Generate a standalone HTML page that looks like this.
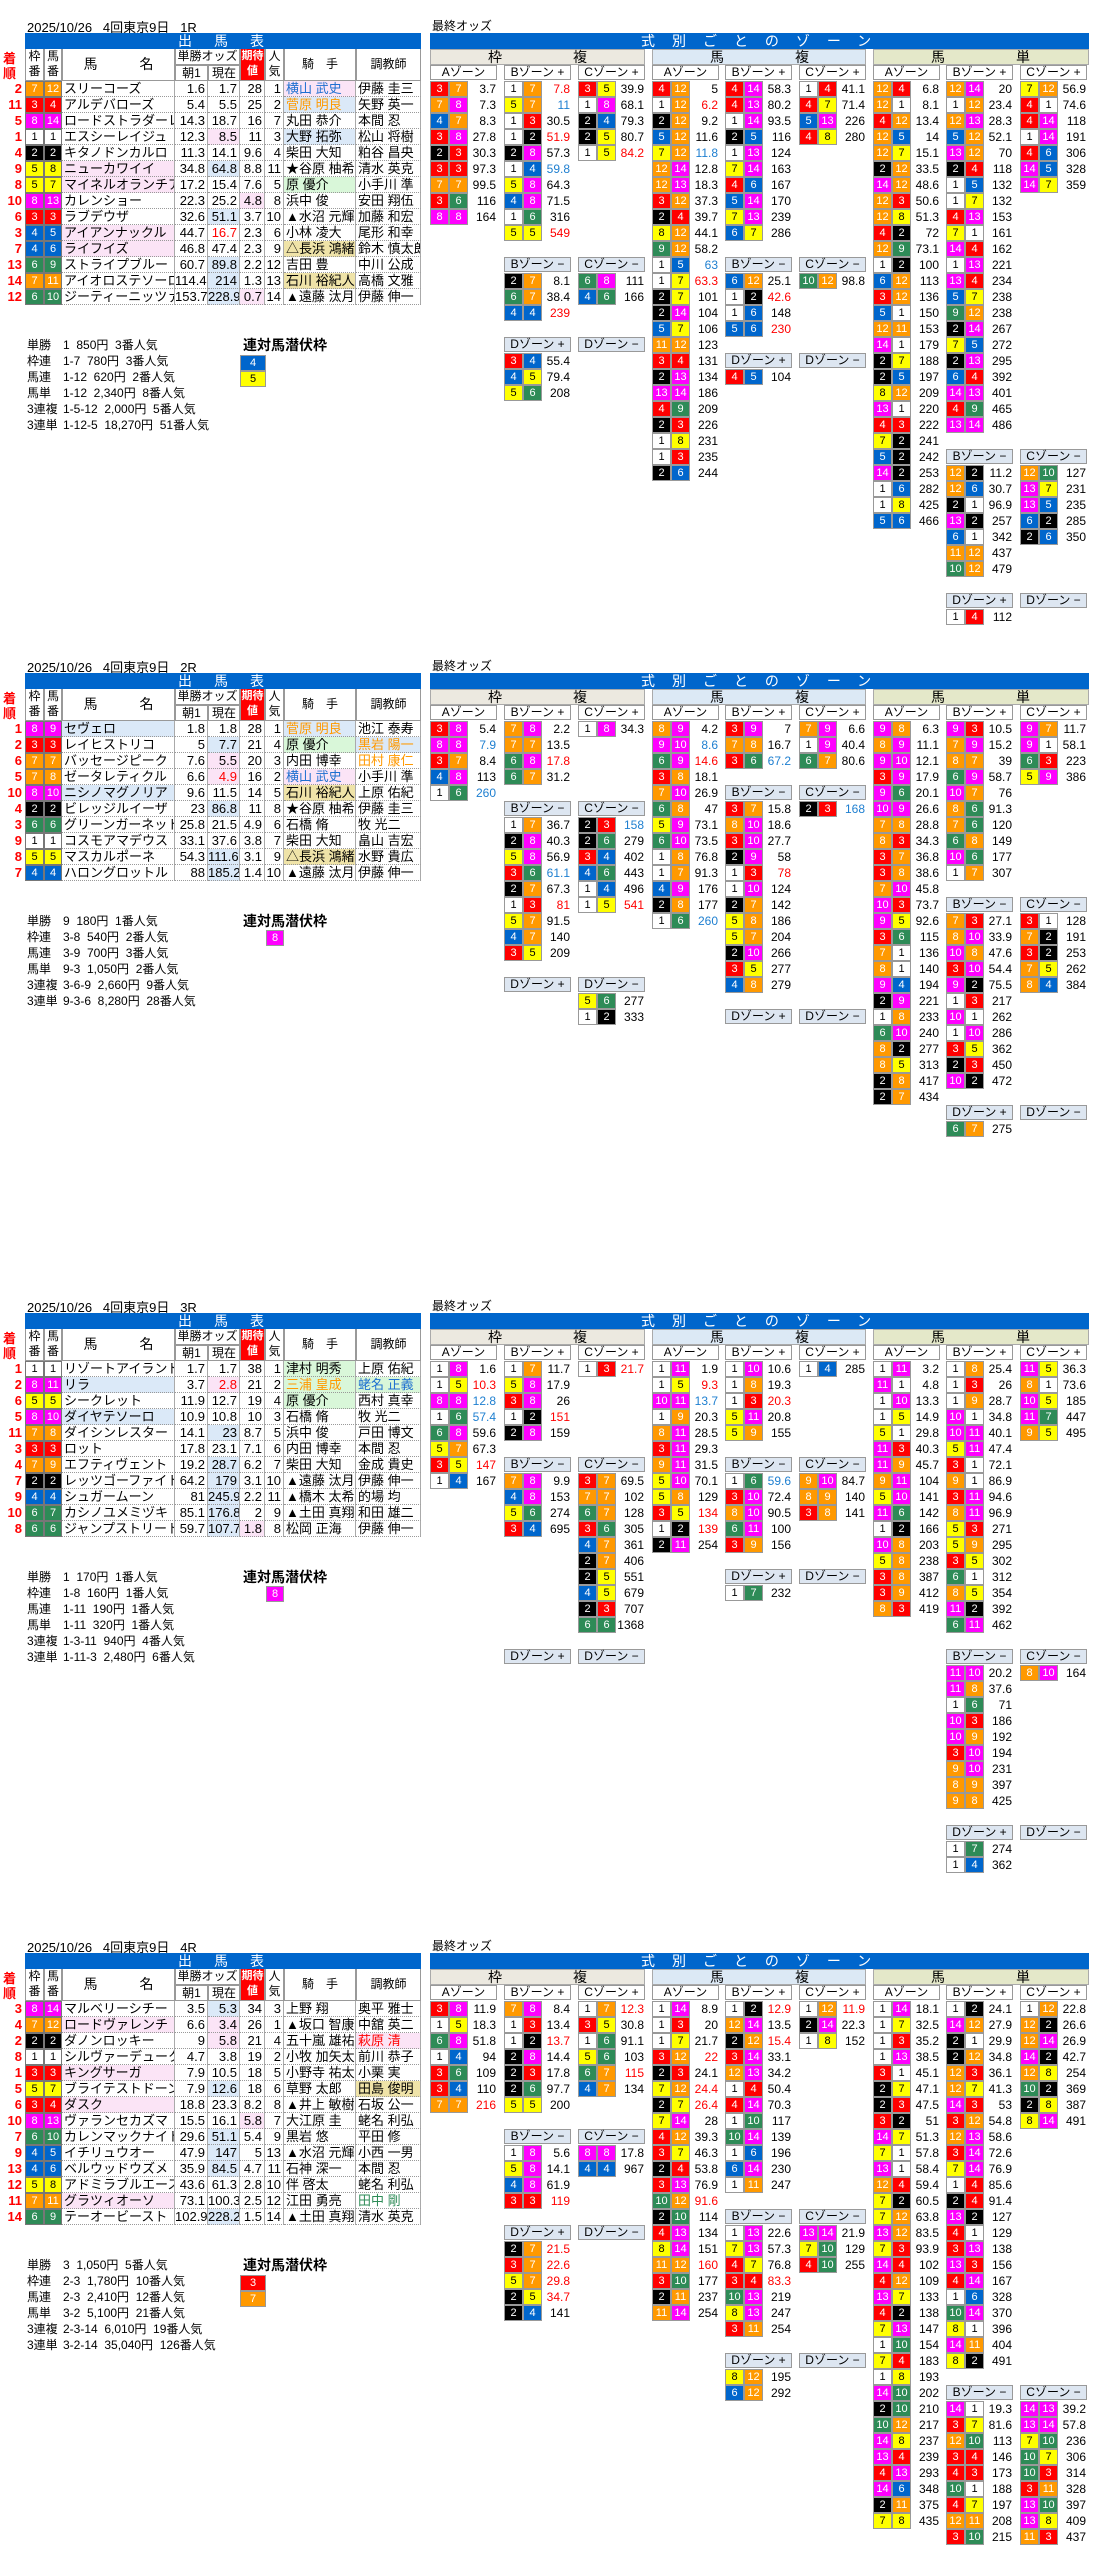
<!DOCTYPE html>
<html><head><meta charset="utf-8"><style>
body{margin:0;width:1093px;height:2560px;position:relative;background:#fff;font-family:"Liberation Sans","Noto Sans CJK JP",sans-serif;color:#000;overflow:hidden}
.blk{position:absolute;left:0;width:1093px;height:640px}
.dt{position:absolute;left:27px;top:17px;font-size:13px;white-space:pre}
.so{position:absolute;left:432px;top:17px;font-size:12px}
.bar{position:absolute;top:33px;height:16px;background:#0066cc;color:#fff;font-size:14px;line-height:16px;white-space:pre}
.sec{position:absolute;top:49px;height:16px;box-sizing:border-box;border:1px solid #aaa;font-size:14px;line-height:14px}
.sec span{position:absolute;top:0}
.zh{position:absolute;width:67px;height:15px;box-sizing:border-box;border:1px solid #999;font-size:12px;line-height:13px;text-align:center;background:#fff;white-space:nowrap}
.zh.m{background:#dde6f1}
.z{position:absolute;width:68px}
.z p{margin:0;height:16px;display:flex;font-size:12px;line-height:16px}
.z i,.tr i,.lb i{font-style:normal;width:19px;height:16px;box-sizing:border-box;border:1px solid #999;text-align:center;font-size:11px;line-height:14px}
.z b{font-weight:normal;flex:1;text-align:right;padding-right:2px}
.r{color:#f00}.u{color:#1e7fd0}
.f1,.ra .h1,.rb .h1,.rc .h1{background:#fff;color:#000}
.f2,.ra .h2,.rb .h2,.rc .h2{background:#000;color:#fff}
.f3,.ra .h3,.ra .h4,.rb .h3,.rc .h3{background:#f00;color:#fff}
.f4,.ra .h5,.ra .h6,.rb .h4,.rc .h4{background:#0066cc;color:#fff}
.f5,.ra .h7,.ra .h8,.rb .h5,.rc .h5{background:#ff0;color:#000}
.f6,.ra .h9,.ra .h10,.rb .h6,.rc .h6,.rc .h7{background:#2e8b57;color:#fff}
.f7,.ra .h11,.ra .h12,.rb .h7,.rb .h8,.rc .h8,.rc .h9{background:#ff9900;color:#fff}
.f8,.ra .h13,.ra .h14,.rb .h9,.rb .h10,.rc .h10,.rc .h11{background:#f0f;color:#fff}
.th{position:absolute;box-sizing:border-box;border:1px solid #999;border-top:none;text-align:center;font-size:12px;background:#fff}
.tr{position:absolute;left:0;height:16px;display:flex;font-size:13px;line-height:16px;white-space:nowrap}
.tr>*{box-sizing:border-box;border-bottom:1px dotted #999;border-right:1px solid #aaa;overflow:hidden}
.tr s{text-decoration:none;width:25px;text-align:right;color:#f00;padding-right:3px;border:none;font-weight:bold}
.tr i{border:1px solid #777;width:19px}
.tr i+i{width:18px}
.tr u{text-decoration:none;width:113px;padding-left:2px}
.tr em{font-style:normal;text-align:right;padding-right:2px}
.tr em.a{width:33px}.tr em.b{width:32px}.tr em.c{width:25px}.tr em.d{width:19px}
.tr q{width:72px;padding-left:2px}.tr q+q{width:65px}
.tr q:before,.tr q:after{content:none}
.res{position:absolute;left:27px;font-size:12px;line-height:16px;white-space:pre}
.res span{display:inline-block;width:36px}
.lbt{position:absolute;left:243px;font-size:14px;font-weight:bold;line-height:16px}
.lb{position:absolute;display:flex;flex-direction:column}
.lb i{width:26px}
</style></head><body>

<!-- ================= BLOCK 1 ================= -->
<div class="blk ra" style="top:0">
<div class="dt">2025/10/26   4回東京9日   1R</div>
<div class="so">最終オッズ</div>
<div class="bar" style="left:25px;width:396px"><span style="position:absolute;left:153px;letter-spacing:22px">出馬表</span></div>
<div class="bar" style="left:430px;width:659px"><span style="position:absolute;left:211px;letter-spacing:17px">式別ごとのゾーン</span></div>
<div class="sec" style="left:430px;width:215px;background:#ece9e0"><span style="left:57px">枠</span><span style="left:142px">複</span></div>
<div class="sec" style="left:652px;width:214px;background:#dce9f5"><span style="left:57px">馬</span><span style="left:142px">複</span></div>
<div class="sec" style="left:873px;width:216px;background:#e4e8c9"><span style="left:57px">馬</span><span style="left:142px">単</span></div>
<div style="position:absolute;left:3px;top:51px;color:#f00;font-size:13px;line-height:15px;font-weight:bold">着<br>順</div>
<div class="th" style="left:25px;top:49px;width:19px;height:32px;line-height:15px">枠<br>番</div>
<div class="th" style="left:44px;top:49px;width:18px;height:32px;line-height:15px">馬<br>番</div>
<div class="th" style="left:62px;top:49px;width:113px;height:32px;line-height:30px;font-size:14px">馬　　　名</div>
<div class="th" style="left:175px;top:49px;width:65px;height:16px;line-height:15px">単勝オッズ</div>
<div class="th" style="left:175px;top:65px;width:33px;height:16px;line-height:15px;border-top:1px solid #999">朝1</div>
<div class="th" style="left:208px;top:65px;width:32px;height:16px;line-height:15px;border-top:1px solid #999">現在</div>
<div class="th" style="left:240px;top:49px;width:25px;height:32px;line-height:15px;background:#f00;color:#fff;font-size:11px;font-weight:bold">期待<br>値</div>
<div class="th" style="left:265px;top:49px;width:19px;height:32px;line-height:15px">人<br>気</div>
<div class="th" style="left:284px;top:49px;width:72px;height:32px;line-height:30px">騎　手</div>
<div class="th" style="left:356px;top:49px;width:65px;height:32px;line-height:30px">調教師</div>
<div class="tr" style="top:81px"><s>2</s><i class="f7">7</i><i class="h12">12</i><u>スリーコーズ</u><em class="a">1.6</em><em class="b">1.7</em><em class="c">28</em><em class="d">1</em><q style="color:#1e6fd0;background:#fbe4f6">横山 武史</q><q>伊藤 圭三</q></div>
<div class="tr" style="top:97px"><s>11</s><i class="f3">3</i><i class="h4">4</i><u>アルデバローズ</u><em class="a">5.4</em><em class="b">5.5</em><em class="c">25</em><em class="d">2</em><q style="color:#f90;background:#dbe9f8">菅原 明良</q><q>矢野 英一</q></div>
<div class="tr" style="top:113px"><s>5</s><i class="f8">8</i><i class="h14">14</i><u>ロードストラダーレ</u><em class="a">14.3</em><em class="b">18.7</em><em class="c">16</em><em class="d">7</em><q>丸田 恭介</q><q>本間 忍</q></div>
<div class="tr" style="top:129px"><s>1</s><i class="f1">1</i><i class="h1">1</i><u>エスシーレイジュ</u><em class="a">12.3</em><em class="b" style="background:#fbe4f6">8.5</em><em class="c">11</em><em class="d">3</em><q style="background:#dbe9f8">大野 拓弥</q><q>松山 将樹</q></div>
<div class="tr" style="top:145px"><s>4</s><i class="f2">2</i><i class="h2">2</i><u>キタノドンカルロ</u><em class="a">11.3</em><em class="b">14.1</em><em class="c">9.6</em><em class="d">4</em><q>柴田 大知</q><q>粕谷 昌央</q></div>
<div class="tr" style="top:161px"><s>9</s><i class="f5">5</i><i class="h8">8</i><u style="background:#fbe4f6">ニューカワイイ</u><em class="a">34.8</em><em class="b" style="background:#dbe9f8">64.8</em><em class="c">8.8</em><em class="d">11</em><q>★谷原 柚希</q><q>清水 英克</q></div>
<div class="tr" style="top:177px"><s>8</s><i class="f5">5</i><i class="h7">7</i><u style="background:#fbe4f6">マイネルオランチア</u><em class="a">17.2</em><em class="b">15.4</em><em class="c">7.6</em><em class="d">5</em><q style="background:#d9f7d9">原 優介</q><q>小手川 準</q></div>
<div class="tr" style="top:193px"><s>10</s><i class="f8">8</i><i class="h13">13</i><u>カレンショー</u><em class="a">22.3</em><em class="b">25.2</em><em class="c" style="background:#fbe4f6">4.8</em><em class="d">8</em><q>浜中 俊</q><q>安田 翔伍</q></div>
<div class="tr" style="top:209px"><s>6</s><i class="f3">3</i><i class="h3">3</i><u>ラブデウザ</u><em class="a">32.6</em><em class="b" style="background:#dbe9f8">51.1</em><em class="c">3.7</em><em class="d">10</em><q>▲水沼 元輝</q><q>加藤 和宏</q></div>
<div class="tr" style="top:225px"><s>3</s><i class="f4">4</i><i class="h5">5</i><u style="background:#fbe4f6">アイアンナックル</u><em class="a">44.7</em><em class="b r">16.7</em><em class="c">2.3</em><em class="d">6</em><q>小林 凌大</q><q>尾形 和幸</q></div>
<div class="tr" style="top:241px"><s>7</s><i class="f4">4</i><i class="h6">6</i><u style="background:#fbe4f6">ライフイズ</u><em class="a">46.8</em><em class="b">47.4</em><em class="c">2.3</em><em class="d">9</em><q style="background:#efe3a8">△長浜 鴻緒</q><q>鈴木 慎太郎</q></div>
<div class="tr" style="top:257px"><s>13</s><i class="f6">6</i><i class="h9">9</i><u>ストライプブルー</u><em class="a">60.7</em><em class="b" style="background:#dbe9f8">89.8</em><em class="c">2.2</em><em class="d">12</em><q>吉田 豊</q><q>中川 公成</q></div>
<div class="tr" style="top:273px"><s>14</s><i class="f7">7</i><i class="h11">11</i><u>アイオロステソーロ</u><em class="a">114.4</em><em class="b" style="background:#dbe9f8">214</em><em class="c">1.3</em><em class="d">13</em><q style="background:#efe3a8">石川 裕紀人</q><q>高橋 文雅</q></div>
<div class="tr" style="top:289px"><s>12</s><i class="f6">6</i><i class="h10">10</i><u>ジーティーニッツァ</u><em class="a">153.7</em><em class="b" style="background:#dbe9f8">228.9</em><em class="c" style="background:#fbe4f6">0.7</em><em class="d">14</em><q>▲遠藤 汰月</q><q>伊藤 伸一</q></div>
<div class="res" style="top:337px"><span>単勝</span>1  850円  3番人気
<span>枠連</span>1-7  780円  3番人気
<span>馬連</span>1-12  620円  2番人気
<span>馬単</span>1-12  2,340円  8番人気
<span>3連複</span>1-5-12  2,000円  5番人気
<span>3連単</span>1-12-5  18,270円  51番人気</div>
<div class="lbt" style="top:337px">連対馬潜伏枠</div>
<div class="lb" style="left:240px;top:355px"><i class="f4">4</i><i class="f5">5</i></div>

<div class="zh" style="left:430px;top:65px">Aゾーン</div><div class="zh" style="left:504px;top:65px">Bゾーン +</div><div class="zh" style="left:578px;top:65px">Cゾーン +</div>
<div class="zh" style="left:652px;top:65px">Aゾーン</div><div class="zh" style="left:725px;top:65px">Bゾーン +</div><div class="zh" style="left:799px;top:65px">Cゾーン +</div>
<div class="zh" style="left:873px;top:65px">Aゾーン</div><div class="zh" style="left:946px;top:65px">Bゾーン +</div><div class="zh" style="left:1020px;top:65px">Cゾーン +</div>
<div class="z" style="left:430px;top:81px"><p><i class="f3">3</i><i class="f7">7</i><b>3.7</b></p><p><i class="f7">7</i><i class="f8">8</i><b>7.3</b></p><p><i class="f4">4</i><i class="f7">7</i><b>8.3</b></p><p><i class="f3">3</i><i class="f8">8</i><b>27.8</b></p><p><i class="f2">2</i><i class="f3">3</i><b>30.3</b></p><p><i class="f3">3</i><i class="f3">3</i><b>97.3</b></p><p><i class="f7">7</i><i class="f7">7</i><b>99.5</b></p><p><i class="f3">3</i><i class="f6">6</i><b>116</b></p><p><i class="f8">8</i><i class="f8">8</i><b>164</b></p></div>
<div class="z" style="left:504px;top:81px"><p><i class="f1">1</i><i class="f7">7</i><b class="r">7.8</b></p><p><i class="f5">5</i><i class="f7">7</i><b class="u">11</b></p><p><i class="f1">1</i><i class="f3">3</i><b>30.5</b></p><p><i class="f1">1</i><i class="f2">2</i><b class="r">51.9</b></p><p><i class="f2">2</i><i class="f8">8</i><b>57.3</b></p><p><i class="f1">1</i><i class="f4">4</i><b class="u">59.8</b></p><p><i class="f5">5</i><i class="f8">8</i><b>64.3</b></p><p><i class="f4">4</i><i class="f8">8</i><b>71.5</b></p><p><i class="f1">1</i><i class="f6">6</i><b>316</b></p><p><i class="f5">5</i><i class="f5">5</i><b class="r">549</b></p></div>
<div class="z" style="left:578px;top:81px"><p><i class="f3">3</i><i class="f5">5</i><b>39.9</b></p><p><i class="f1">1</i><i class="f8">8</i><b>68.1</b></p><p><i class="f2">2</i><i class="f4">4</i><b>79.3</b></p><p><i class="f2">2</i><i class="f5">5</i><b>80.7</b></p><p><i class="f1">1</i><i class="f5">5</i><b class="r">84.2</b></p></div>
<div class="zh m" style="left:504px;top:257px">Bゾーン −</div><div class="zh m" style="left:578px;top:257px">Cゾーン −</div>
<div class="z" style="left:504px;top:273px"><p><i class="f2">2</i><i class="f7">7</i><b>8.1</b></p><p><i class="f6">6</i><i class="f7">7</i><b>38.4</b></p><p><i class="f4">4</i><i class="f4">4</i><b class="r">239</b></p></div>
<div class="z" style="left:578px;top:273px"><p><i class="f6">6</i><i class="f8">8</i><b>111</b></p><p><i class="f4">4</i><i class="f6">6</i><b>166</b></p></div>
<div class="zh m" style="left:504px;top:337px">Dゾーン +</div><div class="zh m" style="left:578px;top:337px">Dゾーン −</div>
<div class="z" style="left:504px;top:353px"><p><i class="f3">3</i><i class="f4">4</i><b>55.4</b></p><p><i class="f4">4</i><i class="f5">5</i><b>79.4</b></p><p><i class="f5">5</i><i class="f6">6</i><b>208</b></p></div>

<div class="z" style="left:652px;top:81px"><p><i class="h4">4</i><i class="h12">12</i><b>5</b></p><p><i class="h1">1</i><i class="h12">12</i><b class="r">6.2</b></p><p><i class="h2">2</i><i class="h12">12</i><b>9.2</b></p><p><i class="h5">5</i><i class="h12">12</i><b>11.6</b></p><p><i class="h7">7</i><i class="h12">12</i><b class="u">11.8</b></p><p><i class="h12">12</i><i class="h14">14</i><b>12.8</b></p><p><i class="h12">12</i><i class="h13">13</i><b>18.3</b></p><p><i class="h3">3</i><i class="h12">12</i><b>37.3</b></p><p><i class="h2">2</i><i class="h4">4</i><b>39.7</b></p><p><i class="h8">8</i><i class="h12">12</i><b>44.1</b></p><p><i class="h9">9</i><i class="h12">12</i><b>58.2</b></p><p><i class="h1">1</i><i class="h5">5</i><b class="u">63</b></p><p><i class="h1">1</i><i class="h7">7</i><b class="r">63.3</b></p><p><i class="h2">2</i><i class="h7">7</i><b>101</b></p><p><i class="h2">2</i><i class="h14">14</i><b>104</b></p><p><i class="h5">5</i><i class="h7">7</i><b>106</b></p><p><i class="h11">11</i><i class="h12">12</i><b>123</b></p><p><i class="h3">3</i><i class="h4">4</i><b>131</b></p><p><i class="h2">2</i><i class="h13">13</i><b>134</b></p><p><i class="h13">13</i><i class="h14">14</i><b>186</b></p><p><i class="h4">4</i><i class="h9">9</i><b>209</b></p><p><i class="h2">2</i><i class="h3">3</i><b>226</b></p><p><i class="h1">1</i><i class="h8">8</i><b>231</b></p><p><i class="h1">1</i><i class="h3">3</i><b>235</b></p><p><i class="h2">2</i><i class="h6">6</i><b>244</b></p></div>
<div class="z" style="left:725px;top:81px"><p><i class="h4">4</i><i class="h14">14</i><b>58.3</b></p><p><i class="h4">4</i><i class="h13">13</i><b>80.2</b></p><p><i class="h1">1</i><i class="h14">14</i><b>93.5</b></p><p><i class="h2">2</i><i class="h5">5</i><b>116</b></p><p><i class="h1">1</i><i class="h13">13</i><b>124</b></p><p><i class="h7">7</i><i class="h14">14</i><b>163</b></p><p><i class="h4">4</i><i class="h6">6</i><b>167</b></p><p><i class="h5">5</i><i class="h14">14</i><b>170</b></p><p><i class="h7">7</i><i class="h13">13</i><b>239</b></p><p><i class="h6">6</i><i class="h7">7</i><b>286</b></p></div>
<div class="z" style="left:799px;top:81px"><p><i class="h1">1</i><i class="h4">4</i><b>41.1</b></p><p><i class="h4">4</i><i class="h7">7</i><b>71.4</b></p><p><i class="h5">5</i><i class="h13">13</i><b>226</b></p><p><i class="h4">4</i><i class="h8">8</i><b>280</b></p></div>
<div class="zh m" style="left:725px;top:257px">Bゾーン −</div><div class="zh m" style="left:799px;top:257px">Cゾーン −</div>
<div class="z" style="left:725px;top:273px"><p><i class="h6">6</i><i class="h12">12</i><b>25.1</b></p><p><i class="h1">1</i><i class="h2">2</i><b class="r">42.6</b></p><p><i class="h1">1</i><i class="h6">6</i><b>148</b></p><p><i class="h5">5</i><i class="h6">6</i><b class="r">230</b></p></div>
<div class="z" style="left:799px;top:273px"><p><i class="h10">10</i><i class="h12">12</i><b>98.8</b></p></div>
<div class="zh m" style="left:725px;top:353px">Dゾーン +</div><div class="zh m" style="left:799px;top:353px">Dゾーン −</div>
<div class="z" style="left:725px;top:369px"><p><i class="h4">4</i><i class="h5">5</i><b>104</b></p></div>

<div class="z" style="left:873px;top:81px"><p><i class="h12">12</i><i class="h4">4</i><b>6.8</b></p><p><i class="h12">12</i><i class="h1">1</i><b>8.1</b></p><p><i class="h4">4</i><i class="h12">12</i><b>13.4</b></p><p><i class="h12">12</i><i class="h5">5</i><b>14</b></p><p><i class="h12">12</i><i class="h7">7</i><b>15.1</b></p><p><i class="h2">2</i><i class="h12">12</i><b>33.5</b></p><p><i class="h14">14</i><i class="h12">12</i><b>48.6</b></p><p><i class="h12">12</i><i class="h3">3</i><b>50.6</b></p><p><i class="h12">12</i><i class="h8">8</i><b>51.3</b></p><p><i class="h4">4</i><i class="h2">2</i><b>72</b></p><p><i class="h12">12</i><i class="h9">9</i><b>73.1</b></p><p><i class="h1">1</i><i class="h2">2</i><b>100</b></p><p><i class="h6">6</i><i class="h12">12</i><b>113</b></p><p><i class="h3">3</i><i class="h12">12</i><b>136</b></p><p><i class="h5">5</i><i class="h1">1</i><b>150</b></p><p><i class="h12">12</i><i class="h11">11</i><b>153</b></p><p><i class="h14">14</i><i class="h1">1</i><b>179</b></p><p><i class="h2">2</i><i class="h7">7</i><b>188</b></p><p><i class="h2">2</i><i class="h5">5</i><b>197</b></p><p><i class="h8">8</i><i class="h12">12</i><b>209</b></p><p><i class="h13">13</i><i class="h1">1</i><b>220</b></p><p><i class="h4">4</i><i class="h3">3</i><b>222</b></p><p><i class="h7">7</i><i class="h2">2</i><b>241</b></p><p><i class="h5">5</i><i class="h2">2</i><b>242</b></p><p><i class="h14">14</i><i class="h2">2</i><b>253</b></p><p><i class="h1">1</i><i class="h6">6</i><b>282</b></p><p><i class="h1">1</i><i class="h8">8</i><b>425</b></p><p><i class="h5">5</i><i class="h6">6</i><b>466</b></p></div>
<div class="z" style="left:946px;top:81px"><p><i class="h12">12</i><i class="h14">14</i><b>20</b></p><p><i class="h1">1</i><i class="h12">12</i><b>23.4</b></p><p><i class="h12">12</i><i class="h13">13</i><b>28.3</b></p><p><i class="h5">5</i><i class="h12">12</i><b>52.1</b></p><p><i class="h13">13</i><i class="h12">12</i><b>70</b></p><p><i class="h2">2</i><i class="h4">4</i><b>118</b></p><p><i class="h1">1</i><i class="h5">5</i><b>132</b></p><p><i class="h1">1</i><i class="h7">7</i><b>132</b></p><p><i class="h4">4</i><i class="h13">13</i><b>153</b></p><p><i class="h7">7</i><i class="h1">1</i><b>161</b></p><p><i class="h14">14</i><i class="h4">4</i><b>162</b></p><p><i class="h1">1</i><i class="h13">13</i><b>221</b></p><p><i class="h13">13</i><i class="h4">4</i><b>234</b></p><p><i class="h5">5</i><i class="h7">7</i><b>238</b></p><p><i class="h9">9</i><i class="h12">12</i><b>238</b></p><p><i class="h2">2</i><i class="h14">14</i><b>267</b></p><p><i class="h7">7</i><i class="h5">5</i><b>272</b></p><p><i class="h2">2</i><i class="h13">13</i><b>295</b></p><p><i class="h6">6</i><i class="h4">4</i><b>392</b></p><p><i class="h14">14</i><i class="h13">13</i><b>401</b></p><p><i class="h4">4</i><i class="h9">9</i><b>465</b></p><p><i class="h13">13</i><i class="h14">14</i><b>486</b></p></div>
<div class="z" style="left:1020px;top:81px"><p><i class="h7">7</i><i class="h12">12</i><b>56.9</b></p><p><i class="h4">4</i><i class="h1">1</i><b>74.6</b></p><p><i class="h4">4</i><i class="h14">14</i><b>118</b></p><p><i class="h1">1</i><i class="h14">14</i><b>191</b></p><p><i class="h4">4</i><i class="h6">6</i><b>306</b></p><p><i class="h14">14</i><i class="h5">5</i><b>328</b></p><p><i class="h14">14</i><i class="h7">7</i><b>359</b></p></div>
<div class="zh m" style="left:946px;top:449px">Bゾーン −</div><div class="zh m" style="left:1020px;top:449px">Cゾーン −</div>
<div class="z" style="left:946px;top:465px"><p><i class="h12">12</i><i class="h2">2</i><b>11.2</b></p><p><i class="h12">12</i><i class="h6">6</i><b>30.7</b></p><p><i class="h2">2</i><i class="h1">1</i><b>96.9</b></p><p><i class="h13">13</i><i class="h2">2</i><b>257</b></p><p><i class="h6">6</i><i class="h1">1</i><b>342</b></p><p><i class="h11">11</i><i class="h12">12</i><b>437</b></p><p><i class="h10">10</i><i class="h12">12</i><b>479</b></p></div>
<div class="z" style="left:1020px;top:465px"><p><i class="h12">12</i><i class="h10">10</i><b>127</b></p><p><i class="h13">13</i><i class="h7">7</i><b>231</b></p><p><i class="h13">13</i><i class="h5">5</i><b>235</b></p><p><i class="h6">6</i><i class="h2">2</i><b>285</b></p><p><i class="h2">2</i><i class="h6">6</i><b>350</b></p></div>
<div class="zh m" style="left:946px;top:593px">Dゾーン +</div><div class="zh m" style="left:1020px;top:593px">Dゾーン −</div>
<div class="z" style="left:946px;top:609px"><p><i class="h1">1</i><i class="h4">4</i><b>112</b></p></div>
</div>

<!-- ================= BLOCK 2 ================= -->
<div class="blk rb" style="top:640px">
<div class="dt">2025/10/26   4回東京9日   2R</div>
<div class="so">最終オッズ</div>
<div class="bar" style="left:25px;width:396px"><span style="position:absolute;left:153px;letter-spacing:22px">出馬表</span></div>
<div class="bar" style="left:430px;width:659px"><span style="position:absolute;left:211px;letter-spacing:17px">式別ごとのゾーン</span></div>
<div class="sec" style="left:430px;width:215px;background:#ece9e0"><span style="left:57px">枠</span><span style="left:142px">複</span></div>
<div class="sec" style="left:652px;width:214px;background:#dce9f5"><span style="left:57px">馬</span><span style="left:142px">複</span></div>
<div class="sec" style="left:873px;width:216px;background:#e4e8c9"><span style="left:57px">馬</span><span style="left:142px">単</span></div>
<div style="position:absolute;left:3px;top:51px;color:#f00;font-size:13px;line-height:15px;font-weight:bold">着<br>順</div>
<div class="th" style="left:25px;top:49px;width:19px;height:32px;line-height:15px">枠<br>番</div>
<div class="th" style="left:44px;top:49px;width:18px;height:32px;line-height:15px">馬<br>番</div>
<div class="th" style="left:62px;top:49px;width:113px;height:32px;line-height:30px;font-size:14px">馬　　　名</div>
<div class="th" style="left:175px;top:49px;width:65px;height:16px;line-height:15px">単勝オッズ</div>
<div class="th" style="left:175px;top:65px;width:33px;height:16px;line-height:15px;border-top:1px solid #999">朝1</div>
<div class="th" style="left:208px;top:65px;width:32px;height:16px;line-height:15px;border-top:1px solid #999">現在</div>
<div class="th" style="left:240px;top:49px;width:25px;height:32px;line-height:15px;background:#f00;color:#fff;font-size:11px;font-weight:bold">期待<br>値</div>
<div class="th" style="left:265px;top:49px;width:19px;height:32px;line-height:15px">人<br>気</div>
<div class="th" style="left:284px;top:49px;width:72px;height:32px;line-height:30px">騎　手</div>
<div class="th" style="left:356px;top:49px;width:65px;height:32px;line-height:30px">調教師</div>
<div class="tr" style="top:81px"><s>1</s><i class="f8">8</i><i class="h9">9</i><u style="background:#dbe9f8">セヴェロ</u><em class="a">1.8</em><em class="b">1.8</em><em class="c">28</em><em class="d">1</em><q style="color:#f90;background:#dbe9f8">菅原 明良</q><q>池江 泰寿</q></div>
<div class="tr" style="top:97px"><s>2</s><i class="f3">3</i><i class="h3">3</i><u>レイヒストリコ</u><em class="a">5</em><em class="b" style="background:#dbe9f8">7.7</em><em class="c">21</em><em class="d">4</em><q style="background:#d9f7d9">原 優介</q><q style="color:#f90;background:#dbe9f8">黒岩 陽一</q></div>
<div class="tr" style="top:113px"><s>6</s><i class="f7">7</i><i class="h7">7</i><u>バッセージピーク</u><em class="a">7.6</em><em class="b" style="background:#fbe4f6">5.5</em><em class="c">20</em><em class="d">3</em><q>内田 博幸</q><q style="color:#f90">田村 康仁</q></div>
<div class="tr" style="top:129px"><s>5</s><i class="f7">7</i><i class="h8">8</i><u>ゼータレティクル</u><em class="a">6.6</em><em class="b r" style="background:#fbe4f6">4.9</em><em class="c">16</em><em class="d">2</em><q style="color:#1e6fd0;background:#fbe4f6">横山 武史</q><q>小手川 準</q></div>
<div class="tr" style="top:145px"><s>10</s><i class="f8">8</i><i class="h10">10</i><u style="background:#dbe9f8">ニシノマグノリア</u><em class="a">9.6</em><em class="b">11.5</em><em class="c">14</em><em class="d">5</em><q style="background:#efe3a8">石川 裕紀人</q><q>上原 佑紀</q></div>
<div class="tr" style="top:161px"><s>4</s><i class="f2">2</i><i class="h2">2</i><u>ビレッジルイーザ</u><em class="a">23</em><em class="b" style="background:#dbe9f8">86.8</em><em class="c">11</em><em class="d">8</em><q>★谷原 柚希</q><q>伊藤 圭三</q></div>
<div class="tr" style="top:177px"><s>3</s><i class="f6">6</i><i class="h6">6</i><u>グリーンガーネット</u><em class="a">25.8</em><em class="b">21.5</em><em class="c">4.9</em><em class="d">6</em><q>石橋 脩</q><q>牧 光二</q></div>
<div class="tr" style="top:193px"><s>9</s><i class="f1">1</i><i class="h1">1</i><u>コスモアマデウス</u><em class="a">33.1</em><em class="b">37.6</em><em class="c">3.8</em><em class="d">7</em><q>柴田 大知</q><q>畠山 吉宏</q></div>
<div class="tr" style="top:209px"><s>8</s><i class="f5">5</i><i class="h5">5</i><u>マスカルポーネ</u><em class="a">54.3</em><em class="b" style="background:#dbe9f8">111.6</em><em class="c">3.1</em><em class="d">9</em><q style="background:#efe3a8">△長浜 鴻緒</q><q>水野 貴広</q></div>
<div class="tr" style="top:225px"><s>7</s><i class="f4">4</i><i class="h4">4</i><u>ハロングロットル</u><em class="a">88</em><em class="b" style="background:#dbe9f8">185.2</em><em class="c">1.4</em><em class="d">10</em><q>▲遠藤 汰月</q><q>伊藤 伸一</q></div>
<div class="res" style="top:273px"><span>単勝</span>9  180円  1番人気
<span>枠連</span>3-8  540円  2番人気
<span>馬連</span>3-9  700円  3番人気
<span>馬単</span>9-3  1,050円  2番人気
<span>3連複</span>3-6-9  2,660円  9番人気
<span>3連単</span>9-3-6  8,280円  28番人気</div>
<div class="lbt" style="top:273px">連対馬潜伏枠</div>
<div class="lb" style="left:266px;top:290px"><i class="f8" style="width:18px">8</i></div>

<div class="zh" style="left:430px;top:65px">Aゾーン</div><div class="zh" style="left:504px;top:65px">Bゾーン +</div><div class="zh" style="left:578px;top:65px">Cゾーン +</div>
<div class="zh" style="left:652px;top:65px">Aゾーン</div><div class="zh" style="left:725px;top:65px">Bゾーン +</div><div class="zh" style="left:799px;top:65px">Cゾーン +</div>
<div class="zh" style="left:873px;top:65px">Aゾーン</div><div class="zh" style="left:946px;top:65px">Bゾーン +</div><div class="zh" style="left:1020px;top:65px">Cゾーン +</div>
<div class="z" style="left:430px;top:81px"><p><i class="f3">3</i><i class="f8">8</i><b>5.4</b></p><p><i class="f8">8</i><i class="f8">8</i><b class="u">7.9</b></p><p><i class="f3">3</i><i class="f7">7</i><b>8.4</b></p><p><i class="f4">4</i><i class="f8">8</i><b>113</b></p><p><i class="f1">1</i><i class="f6">6</i><b class="u">260</b></p></div>
<div class="z" style="left:504px;top:81px"><p><i class="f7">7</i><i class="f8">8</i><b>2.2</b></p><p><i class="f7">7</i><i class="f7">7</i><b>13.5</b></p><p><i class="f6">6</i><i class="f8">8</i><b class="r">17.8</b></p><p><i class="f6">6</i><i class="f7">7</i><b>31.2</b></p></div>
<div class="z" style="left:578px;top:81px"><p><i class="f1">1</i><i class="f8">8</i><b>34.3</b></p></div>
<div class="zh m" style="left:504px;top:161px">Bゾーン −</div><div class="zh m" style="left:578px;top:161px">Cゾーン −</div>
<div class="z" style="left:504px;top:177px"><p><i class="f1">1</i><i class="f7">7</i><b>36.7</b></p><p><i class="f2">2</i><i class="f8">8</i><b>40.3</b></p><p><i class="f5">5</i><i class="f8">8</i><b>56.9</b></p><p><i class="f3">3</i><i class="f6">6</i><b class="u">61.1</b></p><p><i class="f2">2</i><i class="f7">7</i><b>67.3</b></p><p><i class="f1">1</i><i class="f3">3</i><b class="r">81</b></p><p><i class="f5">5</i><i class="f7">7</i><b>91.5</b></p><p><i class="f4">4</i><i class="f7">7</i><b>140</b></p><p><i class="f3">3</i><i class="f5">5</i><b>209</b></p></div>
<div class="z" style="left:578px;top:177px"><p><i class="f2">2</i><i class="f3">3</i><b class="u">158</b></p><p><i class="f2">2</i><i class="f6">6</i><b>279</b></p><p><i class="f3">3</i><i class="f4">4</i><b>402</b></p><p><i class="f4">4</i><i class="f6">6</i><b>443</b></p><p><i class="f1">1</i><i class="f4">4</i><b>496</b></p><p><i class="f1">1</i><i class="f5">5</i><b class="r">541</b></p></div>
<div class="zh m" style="left:504px;top:337px">Dゾーン +</div><div class="zh m" style="left:578px;top:337px">Dゾーン −</div>
<div class="z" style="left:578px;top:353px"><p><i class="f5">5</i><i class="f6">6</i><b>277</b></p><p><i class="f1">1</i><i class="f2">2</i><b>333</b></p></div>

<div class="z" style="left:652px;top:81px"><p><i class="h8">8</i><i class="h9">9</i><b>4.2</b></p><p><i class="h9">9</i><i class="h10">10</i><b class="u">8.6</b></p><p><i class="h6">6</i><i class="h9">9</i><b class="r">14.6</b></p><p><i class="h3">3</i><i class="h8">8</i><b>18.1</b></p><p><i class="h7">7</i><i class="h10">10</i><b>26.9</b></p><p><i class="h6">6</i><i class="h8">8</i><b>47</b></p><p><i class="h5">5</i><i class="h9">9</i><b>73.1</b></p><p><i class="h6">6</i><i class="h10">10</i><b>73.5</b></p><p><i class="h1">1</i><i class="h8">8</i><b>76.8</b></p><p><i class="h1">1</i><i class="h7">7</i><b>91.3</b></p><p><i class="h4">4</i><i class="h9">9</i><b>176</b></p><p><i class="h2">2</i><i class="h8">8</i><b>177</b></p><p><i class="h1">1</i><i class="h6">6</i><b class="u">260</b></p></div>
<div class="z" style="left:725px;top:81px"><p><i class="h3">3</i><i class="h9">9</i><b>7</b></p><p><i class="h7">7</i><i class="h8">8</i><b>16.7</b></p><p><i class="h3">3</i><i class="h6">6</i><b class="u">67.2</b></p></div>
<div class="z" style="left:799px;top:81px"><p><i class="h7">7</i><i class="h9">9</i><b>6.6</b></p><p><i class="h1">1</i><i class="h9">9</i><b>40.4</b></p><p><i class="h6">6</i><i class="h7">7</i><b>80.6</b></p></div>
<div class="zh m" style="left:725px;top:145px">Bゾーン −</div><div class="zh m" style="left:799px;top:145px">Cゾーン −</div>
<div class="z" style="left:725px;top:161px"><p><i class="h3">3</i><i class="h7">7</i><b>15.8</b></p><p><i class="h8">8</i><i class="h10">10</i><b>18.6</b></p><p><i class="h3">3</i><i class="h10">10</i><b>27.7</b></p><p><i class="h2">2</i><i class="h9">9</i><b>58</b></p><p><i class="h1">1</i><i class="h3">3</i><b class="r">78</b></p><p><i class="h1">1</i><i class="h10">10</i><b>124</b></p><p><i class="h2">2</i><i class="h7">7</i><b>142</b></p><p><i class="h5">5</i><i class="h8">8</i><b>186</b></p><p><i class="h5">5</i><i class="h7">7</i><b>204</b></p><p><i class="h2">2</i><i class="h10">10</i><b>266</b></p><p><i class="h3">3</i><i class="h5">5</i><b>277</b></p><p><i class="h4">4</i><i class="h8">8</i><b>279</b></p></div>
<div class="z" style="left:799px;top:161px"><p><i class="h2">2</i><i class="h3">3</i><b class="u">168</b></p></div>
<div class="zh m" style="left:725px;top:369px">Dゾーン +</div><div class="zh m" style="left:799px;top:369px">Dゾーン −</div>

<div class="z" style="left:873px;top:81px"><p><i class="h9">9</i><i class="h8">8</i><b>6.3</b></p><p><i class="h8">8</i><i class="h9">9</i><b>11.1</b></p><p><i class="h9">9</i><i class="h10">10</i><b>12.1</b></p><p><i class="h3">3</i><i class="h9">9</i><b>17.9</b></p><p><i class="h9">9</i><i class="h6">6</i><b>20.1</b></p><p><i class="h10">10</i><i class="h9">9</i><b>26.6</b></p><p><i class="h7">7</i><i class="h8">8</i><b>28.8</b></p><p><i class="h8">8</i><i class="h3">3</i><b>34.3</b></p><p><i class="h3">3</i><i class="h7">7</i><b>36.8</b></p><p><i class="h3">3</i><i class="h8">8</i><b>38.6</b></p><p><i class="h7">7</i><i class="h10">10</i><b>45.8</b></p><p><i class="h10">10</i><i class="h3">3</i><b>73.7</b></p><p><i class="h9">9</i><i class="h5">5</i><b>92.6</b></p><p><i class="h3">3</i><i class="h6">6</i><b>115</b></p><p><i class="h7">7</i><i class="h1">1</i><b>136</b></p><p><i class="h8">8</i><i class="h1">1</i><b>140</b></p><p><i class="h9">9</i><i class="h4">4</i><b>194</b></p><p><i class="h2">2</i><i class="h9">9</i><b>221</b></p><p><i class="h1">1</i><i class="h8">8</i><b>233</b></p><p><i class="h6">6</i><i class="h10">10</i><b>240</b></p><p><i class="h8">8</i><i class="h2">2</i><b>277</b></p><p><i class="h8">8</i><i class="h5">5</i><b>313</b></p><p><i class="h2">2</i><i class="h8">8</i><b>417</b></p><p><i class="h2">2</i><i class="h7">7</i><b>434</b></p></div>
<div class="z" style="left:946px;top:81px"><p><i class="h9">9</i><i class="h3">3</i><b>10.5</b></p><p><i class="h7">7</i><i class="h9">9</i><b>15.2</b></p><p><i class="h8">8</i><i class="h7">7</i><b>39</b></p><p><i class="h6">6</i><i class="h9">9</i><b>58.7</b></p><p><i class="h10">10</i><i class="h7">7</i><b>76</b></p><p><i class="h8">8</i><i class="h6">6</i><b>91.3</b></p><p><i class="h7">7</i><i class="h6">6</i><b>120</b></p><p><i class="h6">6</i><i class="h8">8</i><b>149</b></p><p><i class="h10">10</i><i class="h6">6</i><b>177</b></p><p><i class="h1">1</i><i class="h7">7</i><b>307</b></p></div>
<div class="z" style="left:1020px;top:81px"><p><i class="h9">9</i><i class="h7">7</i><b>11.7</b></p><p><i class="h9">9</i><i class="h1">1</i><b>58.1</b></p><p><i class="h6">6</i><i class="h3">3</i><b>223</b></p><p><i class="h5">5</i><i class="h9">9</i><b>386</b></p></div>
<div class="zh m" style="left:946px;top:257px">Bゾーン −</div><div class="zh m" style="left:1020px;top:257px">Cゾーン −</div>
<div class="z" style="left:946px;top:273px"><p><i class="h7">7</i><i class="h3">3</i><b>27.1</b></p><p><i class="h8">8</i><i class="h10">10</i><b>33.9</b></p><p><i class="h10">10</i><i class="h8">8</i><b>47.6</b></p><p><i class="h3">3</i><i class="h10">10</i><b>54.4</b></p><p><i class="h9">9</i><i class="h2">2</i><b>75.5</b></p><p><i class="h1">1</i><i class="h3">3</i><b>217</b></p><p><i class="h10">10</i><i class="h1">1</i><b>262</b></p><p><i class="h1">1</i><i class="h10">10</i><b>286</b></p><p><i class="h3">3</i><i class="h5">5</i><b>362</b></p><p><i class="h2">2</i><i class="h3">3</i><b>450</b></p><p><i class="h10">10</i><i class="h2">2</i><b>472</b></p></div>
<div class="z" style="left:1020px;top:273px"><p><i class="h3">3</i><i class="h1">1</i><b>128</b></p><p><i class="h7">7</i><i class="h2">2</i><b>191</b></p><p><i class="h3">3</i><i class="h2">2</i><b>253</b></p><p><i class="h7">7</i><i class="h5">5</i><b>262</b></p><p><i class="h8">8</i><i class="h4">4</i><b>384</b></p></div>
<div class="zh m" style="left:946px;top:465px">Dゾーン +</div><div class="zh m" style="left:1020px;top:465px">Dゾーン −</div>
<div class="z" style="left:946px;top:481px"><p><i class="h6">6</i><i class="h7">7</i><b>275</b></p></div>
</div>

<!-- ================= BLOCK 3 ================= -->
<div class="blk rc" style="top:1280px">
<div class="dt">2025/10/26   4回東京9日   3R</div>
<div class="so">最終オッズ</div>
<div class="bar" style="left:25px;width:396px"><span style="position:absolute;left:153px;letter-spacing:22px">出馬表</span></div>
<div class="bar" style="left:430px;width:659px"><span style="position:absolute;left:211px;letter-spacing:17px">式別ごとのゾーン</span></div>
<div class="sec" style="left:430px;width:215px;background:#ece9e0"><span style="left:57px">枠</span><span style="left:142px">複</span></div>
<div class="sec" style="left:652px;width:214px;background:#dce9f5"><span style="left:57px">馬</span><span style="left:142px">複</span></div>
<div class="sec" style="left:873px;width:216px;background:#e4e8c9"><span style="left:57px">馬</span><span style="left:142px">単</span></div>
<div style="position:absolute;left:3px;top:51px;color:#f00;font-size:13px;line-height:15px;font-weight:bold">着<br>順</div>
<div class="th" style="left:25px;top:49px;width:19px;height:32px;line-height:15px">枠<br>番</div>
<div class="th" style="left:44px;top:49px;width:18px;height:32px;line-height:15px">馬<br>番</div>
<div class="th" style="left:62px;top:49px;width:113px;height:32px;line-height:30px;font-size:14px">馬　　　名</div>
<div class="th" style="left:175px;top:49px;width:65px;height:16px;line-height:15px">単勝オッズ</div>
<div class="th" style="left:175px;top:65px;width:33px;height:16px;line-height:15px;border-top:1px solid #999">朝1</div>
<div class="th" style="left:208px;top:65px;width:32px;height:16px;line-height:15px;border-top:1px solid #999">現在</div>
<div class="th" style="left:240px;top:49px;width:25px;height:32px;line-height:15px;background:#f00;color:#fff;font-size:11px;font-weight:bold">期待<br>値</div>
<div class="th" style="left:265px;top:49px;width:19px;height:32px;line-height:15px">人<br>気</div>
<div class="th" style="left:284px;top:49px;width:72px;height:32px;line-height:30px">騎　手</div>
<div class="th" style="left:356px;top:49px;width:65px;height:32px;line-height:30px">調教師</div>
<div class="tr" style="top:81px"><s>1</s><i class="f1">1</i><i class="h1">1</i><u>リゾートアイランド</u><em class="a">1.7</em><em class="b">1.7</em><em class="c">38</em><em class="d">1</em><q style="background:#d9f7d9">津村 明秀</q><q>上原 佑紀</q></div>
<div class="tr" style="top:97px"><s>2</s><i class="f8">8</i><i class="h11">11</i><u style="background:#dbe9f8">リラ</u><em class="a">3.7</em><em class="b r" style="background:#fbe4f6">2.8</em><em class="c">21</em><em class="d">2</em><q style="color:#f90;background:#d9f7d9">三浦 皇成</q><q style="color:#1e6fd0;background:#d9f7d9">蛯名 正義</q></div>
<div class="tr" style="top:113px"><s>6</s><i class="f5">5</i><i class="h5">5</i><u>シークレット</u><em class="a">11.9</em><em class="b">12.7</em><em class="c">19</em><em class="d">4</em><q style="background:#d9f7d9">原 優介</q><q>西村 真幸</q></div>
<div class="tr" style="top:129px"><s>5</s><i class="f8">8</i><i class="h10">10</i><u style="background:#dbe9f8">ダイヤテソーロ</u><em class="a">10.9</em><em class="b">10.8</em><em class="c">10</em><em class="d">3</em><q>石橋 脩</q><q>牧 光二</q></div>
<div class="tr" style="top:145px"><s>11</s><i class="f7">7</i><i class="h8">8</i><u>ダイシンレスター</u><em class="a">14.1</em><em class="b" style="background:#dbe9f8">23</em><em class="c">8.7</em><em class="d">5</em><q>浜中 俊</q><q>戸田 博文</q></div>
<div class="tr" style="top:161px"><s>3</s><i class="f3">3</i><i class="h3">3</i><u>ロット</u><em class="a">17.8</em><em class="b">23.1</em><em class="c">7.1</em><em class="d">6</em><q>内田 博幸</q><q>本間 忍</q></div>
<div class="tr" style="top:177px"><s>4</s><i class="f7">7</i><i class="h9">9</i><u>エフティヴェント</u><em class="a">19.2</em><em class="b" style="background:#dbe9f8">28.7</em><em class="c">6.2</em><em class="d">7</em><q>柴田 大知</q><q>金成 貴史</q></div>
<div class="tr" style="top:193px"><s>7</s><i class="f2">2</i><i class="h2">2</i><u>レッツゴーファイト</u><em class="a">64.2</em><em class="b" style="background:#dbe9f8">179</em><em class="c">3.1</em><em class="d">10</em><q>▲遠藤 汰月</q><q>伊藤 伸一</q></div>
<div class="tr" style="top:209px"><s>9</s><i class="f4">4</i><i class="h4">4</i><u>シュガームーン</u><em class="a">81</em><em class="b" style="background:#dbe9f8">245.9</em><em class="c">2.2</em><em class="d">11</em><q>▲橋木 太希</q><q>的場 均</q></div>
<div class="tr" style="top:225px"><s>10</s><i class="f6">6</i><i class="h7">7</i><u>カシノユメミヅキ</u><em class="a">85.1</em><em class="b" style="background:#dbe9f8">176.8</em><em class="c">2</em><em class="d">9</em><q>▲土田 真翔</q><q>和田 雄二</q></div>
<div class="tr" style="top:241px"><s>8</s><i class="f6">6</i><i class="h6">6</i><u>ジャンプストリート</u><em class="a">59.7</em><em class="b" style="background:#dbe9f8">107.7</em><em class="c" style="background:#fbe4f6">1.8</em><em class="d">8</em><q>松岡 正海</q><q>伊藤 伸一</q></div>
<div class="res" style="top:289px"><span>単勝</span>1  170円  1番人気
<span>枠連</span>1-8  160円  1番人気
<span>馬連</span>1-11  190円  1番人気
<span>馬単</span>1-11  320円  1番人気
<span>3連複</span>1-3-11  940円  4番人気
<span>3連単</span>1-11-3  2,480円  6番人気</div>
<div class="lbt" style="top:289px">連対馬潜伏枠</div>
<div class="lb" style="left:266px;top:306px"><i class="f8" style="width:18px">8</i></div>

<div class="zh" style="left:430px;top:65px">Aゾーン</div><div class="zh" style="left:504px;top:65px">Bゾーン +</div><div class="zh" style="left:578px;top:65px">Cゾーン +</div>
<div class="zh" style="left:652px;top:65px">Aゾーン</div><div class="zh" style="left:725px;top:65px">Bゾーン +</div><div class="zh" style="left:799px;top:65px">Cゾーン +</div>
<div class="zh" style="left:873px;top:65px">Aゾーン</div><div class="zh" style="left:946px;top:65px">Bゾーン +</div><div class="zh" style="left:1020px;top:65px">Cゾーン +</div>
<div class="z" style="left:430px;top:81px"><p><i class="f1">1</i><i class="f8">8</i><b>1.6</b></p><p><i class="f1">1</i><i class="f5">5</i><b class="r">10.3</b></p><p><i class="f8">8</i><i class="f8">8</i><b class="u">12.8</b></p><p><i class="f1">1</i><i class="f6">6</i><b class="u">57.4</b></p><p><i class="f6">6</i><i class="f8">8</i><b>59.6</b></p><p><i class="f5">5</i><i class="f7">7</i><b>67.3</b></p><p><i class="f3">3</i><i class="f5">5</i><b class="r">147</b></p><p><i class="f1">1</i><i class="f4">4</i><b>167</b></p></div>
<div class="z" style="left:504px;top:81px"><p><i class="f1">1</i><i class="f7">7</i><b>11.7</b></p><p><i class="f5">5</i><i class="f8">8</i><b>17.9</b></p><p><i class="f3">3</i><i class="f8">8</i><b>26</b></p><p><i class="f1">1</i><i class="f2">2</i><b class="r">151</b></p><p><i class="f2">2</i><i class="f8">8</i><b>159</b></p></div>
<div class="z" style="left:578px;top:81px"><p><i class="f1">1</i><i class="f3">3</i><b class="r">21.7</b></p></div>
<div class="zh m" style="left:504px;top:177px">Bゾーン −</div><div class="zh m" style="left:578px;top:177px">Cゾーン −</div>
<div class="z" style="left:504px;top:193px"><p><i class="f7">7</i><i class="f8">8</i><b>9.9</b></p><p><i class="f4">4</i><i class="f8">8</i><b>153</b></p><p><i class="f5">5</i><i class="f6">6</i><b>274</b></p><p><i class="f3">3</i><i class="f4">4</i><b>695</b></p></div>
<div class="z" style="left:578px;top:193px"><p><i class="f3">3</i><i class="f7">7</i><b>69.5</b></p><p><i class="f7">7</i><i class="f7">7</i><b>102</b></p><p><i class="f6">6</i><i class="f7">7</i><b>128</b></p><p><i class="f3">3</i><i class="f6">6</i><b>305</b></p><p><i class="f4">4</i><i class="f7">7</i><b>361</b></p><p><i class="f2">2</i><i class="f7">7</i><b>406</b></p><p><i class="f2">2</i><i class="f5">5</i><b>551</b></p><p><i class="f4">4</i><i class="f5">5</i><b>679</b></p><p><i class="f2">2</i><i class="f3">3</i><b>707</b></p><p><i class="f6">6</i><i class="f6">6</i><b>1368</b></p></div>
<div class="zh m" style="left:504px;top:369px">Dゾーン +</div><div class="zh m" style="left:578px;top:369px">Dゾーン −</div>

<div class="z" style="left:652px;top:81px"><p><i class="h1">1</i><i class="h11">11</i><b>1.9</b></p><p><i class="h1">1</i><i class="h5">5</i><b class="r">9.3</b></p><p><i class="h10">10</i><i class="h11">11</i><b class="u">13.7</b></p><p><i class="h1">1</i><i class="h9">9</i><b>20.3</b></p><p><i class="h8">8</i><i class="h11">11</i><b>28.5</b></p><p><i class="h3">3</i><i class="h11">11</i><b>29.3</b></p><p><i class="h9">9</i><i class="h11">11</i><b>31.5</b></p><p><i class="h5">5</i><i class="h10">10</i><b>70.1</b></p><p><i class="h5">5</i><i class="h8">8</i><b>129</b></p><p><i class="h3">3</i><i class="h5">5</i><b class="r">134</b></p><p><i class="h1">1</i><i class="h2">2</i><b class="r">139</b></p><p><i class="h2">2</i><i class="h11">11</i><b>254</b></p></div>
<div class="z" style="left:725px;top:81px"><p><i class="h1">1</i><i class="h10">10</i><b>10.6</b></p><p><i class="h1">1</i><i class="h8">8</i><b>19.3</b></p><p><i class="h1">1</i><i class="h3">3</i><b class="r">20.3</b></p><p><i class="h5">5</i><i class="h11">11</i><b>20.8</b></p><p><i class="h5">5</i><i class="h9">9</i><b>155</b></p></div>
<div class="z" style="left:799px;top:81px"><p><i class="h1">1</i><i class="h4">4</i><b>285</b></p></div>
<div class="zh m" style="left:725px;top:177px">Bゾーン −</div><div class="zh m" style="left:799px;top:177px">Cゾーン −</div>
<div class="z" style="left:725px;top:193px"><p><i class="h1">1</i><i class="h6">6</i><b class="u">59.6</b></p><p><i class="h3">3</i><i class="h10">10</i><b>72.4</b></p><p><i class="h8">8</i><i class="h10">10</i><b>90.5</b></p><p><i class="h6">6</i><i class="h11">11</i><b>100</b></p><p><i class="h3">3</i><i class="h9">9</i><b>156</b></p></div>
<div class="z" style="left:799px;top:193px"><p><i class="h9">9</i><i class="h10">10</i><b>84.7</b></p><p><i class="h8">8</i><i class="h9">9</i><b>140</b></p><p><i class="h3">3</i><i class="h8">8</i><b>141</b></p></div>
<div class="zh m" style="left:725px;top:289px">Dゾーン +</div><div class="zh m" style="left:799px;top:289px">Dゾーン −</div>
<div class="z" style="left:725px;top:305px"><p><i class="h1">1</i><i class="h7">7</i><b>232</b></p></div>

<div class="z" style="left:873px;top:81px"><p><i class="h1">1</i><i class="h11">11</i><b>3.2</b></p><p><i class="h11">11</i><i class="h1">1</i><b>4.8</b></p><p><i class="h1">1</i><i class="h10">10</i><b>13.3</b></p><p><i class="h1">1</i><i class="h5">5</i><b>14.9</b></p><p><i class="h5">5</i><i class="h1">1</i><b>29.8</b></p><p><i class="h11">11</i><i class="h3">3</i><b>40.3</b></p><p><i class="h11">11</i><i class="h9">9</i><b>45.7</b></p><p><i class="h9">9</i><i class="h11">11</i><b>104</b></p><p><i class="h5">5</i><i class="h10">10</i><b>141</b></p><p><i class="h11">11</i><i class="h6">6</i><b>142</b></p><p><i class="h1">1</i><i class="h2">2</i><b>166</b></p><p><i class="h10">10</i><i class="h8">8</i><b>203</b></p><p><i class="h5">5</i><i class="h8">8</i><b>238</b></p><p><i class="h3">3</i><i class="h8">8</i><b>387</b></p><p><i class="h3">3</i><i class="h9">9</i><b>412</b></p><p><i class="h8">8</i><i class="h3">3</i><b>419</b></p></div>
<div class="z" style="left:946px;top:81px"><p><i class="h1">1</i><i class="h8">8</i><b>25.4</b></p><p><i class="h1">1</i><i class="h3">3</i><b>26</b></p><p><i class="h1">1</i><i class="h9">9</i><b>28.7</b></p><p><i class="h10">10</i><i class="h1">1</i><b>34.8</b></p><p><i class="h10">10</i><i class="h11">11</i><b>40.1</b></p><p><i class="h5">5</i><i class="h11">11</i><b>47.4</b></p><p><i class="h3">3</i><i class="h1">1</i><b>72.1</b></p><p><i class="h9">9</i><i class="h1">1</i><b>86.9</b></p><p><i class="h3">3</i><i class="h11">11</i><b>94.6</b></p><p><i class="h8">8</i><i class="h11">11</i><b>96.9</b></p><p><i class="h5">5</i><i class="h3">3</i><b>271</b></p><p><i class="h5">5</i><i class="h9">9</i><b>295</b></p><p><i class="h3">3</i><i class="h5">5</i><b>302</b></p><p><i class="h6">6</i><i class="h1">1</i><b>312</b></p><p><i class="h8">8</i><i class="h5">5</i><b>354</b></p><p><i class="h11">11</i><i class="h2">2</i><b>392</b></p><p><i class="h6">6</i><i class="h11">11</i><b>462</b></p></div>
<div class="z" style="left:1020px;top:81px"><p><i class="h11">11</i><i class="h5">5</i><b>36.3</b></p><p><i class="h8">8</i><i class="h1">1</i><b>73.6</b></p><p><i class="h10">10</i><i class="h5">5</i><b>185</b></p><p><i class="h11">11</i><i class="h7">7</i><b>447</b></p><p><i class="h9">9</i><i class="h5">5</i><b>495</b></p></div>
<div class="zh m" style="left:946px;top:369px">Bゾーン −</div><div class="zh m" style="left:1020px;top:369px">Cゾーン −</div>
<div class="z" style="left:946px;top:385px"><p><i class="h11">11</i><i class="h10">10</i><b>20.2</b></p><p><i class="h11">11</i><i class="h8">8</i><b>37.6</b></p><p><i class="h1">1</i><i class="h6">6</i><b>71</b></p><p><i class="h10">10</i><i class="h3">3</i><b>186</b></p><p><i class="h10">10</i><i class="h9">9</i><b>192</b></p><p><i class="h3">3</i><i class="h10">10</i><b>194</b></p><p><i class="h9">9</i><i class="h10">10</i><b>231</b></p><p><i class="h8">8</i><i class="h9">9</i><b>397</b></p><p><i class="h9">9</i><i class="h8">8</i><b>425</b></p></div>
<div class="z" style="left:1020px;top:385px"><p><i class="h8">8</i><i class="h10">10</i><b>164</b></p></div>
<div class="zh m" style="left:946px;top:545px">Dゾーン +</div><div class="zh m" style="left:1020px;top:545px">Dゾーン −</div>
<div class="z" style="left:946px;top:561px"><p><i class="h1">1</i><i class="h7">7</i><b>274</b></p><p><i class="h1">1</i><i class="h4">4</i><b>362</b></p></div>
</div>

<!-- ================= BLOCK 4 ================= -->
<div class="blk ra" style="top:1920px">
<div class="dt">2025/10/26   4回東京9日   4R</div>
<div class="so">最終オッズ</div>
<div class="bar" style="left:25px;width:396px"><span style="position:absolute;left:153px;letter-spacing:22px">出馬表</span></div>
<div class="bar" style="left:430px;width:659px"><span style="position:absolute;left:211px;letter-spacing:17px">式別ごとのゾーン</span></div>
<div class="sec" style="left:430px;width:215px;background:#ece9e0"><span style="left:57px">枠</span><span style="left:142px">複</span></div>
<div class="sec" style="left:652px;width:214px;background:#dce9f5"><span style="left:57px">馬</span><span style="left:142px">複</span></div>
<div class="sec" style="left:873px;width:216px;background:#e4e8c9"><span style="left:57px">馬</span><span style="left:142px">単</span></div>
<div style="position:absolute;left:3px;top:51px;color:#f00;font-size:13px;line-height:15px;font-weight:bold">着<br>順</div>
<div class="th" style="left:25px;top:49px;width:19px;height:32px;line-height:15px">枠<br>番</div>
<div class="th" style="left:44px;top:49px;width:18px;height:32px;line-height:15px">馬<br>番</div>
<div class="th" style="left:62px;top:49px;width:113px;height:32px;line-height:30px;font-size:14px">馬　　　名</div>
<div class="th" style="left:175px;top:49px;width:65px;height:16px;line-height:15px">単勝オッズ</div>
<div class="th" style="left:175px;top:65px;width:33px;height:16px;line-height:15px;border-top:1px solid #999">朝1</div>
<div class="th" style="left:208px;top:65px;width:32px;height:16px;line-height:15px;border-top:1px solid #999">現在</div>
<div class="th" style="left:240px;top:49px;width:25px;height:32px;line-height:15px;background:#f00;color:#fff;font-size:11px;font-weight:bold">期待<br>値</div>
<div class="th" style="left:265px;top:49px;width:19px;height:32px;line-height:15px">人<br>気</div>
<div class="th" style="left:284px;top:49px;width:72px;height:32px;line-height:30px">騎　手</div>
<div class="th" style="left:356px;top:49px;width:65px;height:32px;line-height:30px">調教師</div>
<div class="tr" style="top:81px"><s>3</s><i class="f8">8</i><i class="h14">14</i><u>マルベリーシチー</u><em class="a">3.5</em><em class="b" style="background:#dbe9f8">5.3</em><em class="c">34</em><em class="d">3</em><q>上野 翔</q><q>奥平 雅士</q></div>
<div class="tr" style="top:97px"><s>4</s><i class="f7">7</i><i class="h12">12</i><u style="background:#fbe4f6">ロードヴァレンチ</u><em class="a">6.6</em><em class="b" style="background:#fbe4f6">3.4</em><em class="c">26</em><em class="d">1</em><q>▲坂口 智康</q><q>中舘 英二</q></div>
<div class="tr" style="top:113px"><s>2</s><i class="f2">2</i><i class="h2">2</i><u>ダノンロッキー</u><em class="a">9</em><em class="b" style="background:#fbe4f6">5.8</em><em class="c">21</em><em class="d">4</em><q>五十嵐 雄祐</q><q style="color:#f00;background:#fbe4f6">萩原 清</q></div>
<div class="tr" style="top:129px"><s>8</s><i class="f1">1</i><i class="h1">1</i><u>シルヴァーデューク</u><em class="a">4.7</em><em class="b">3.8</em><em class="c">19</em><em class="d">2</em><q>小牧 加矢太</q><q>前川 恭子</q></div>
<div class="tr" style="top:145px"><s>1</s><i class="f3">3</i><i class="h3">3</i><u style="background:#fbe4f6">キングサーガ</u><em class="a">7.9</em><em class="b">10.5</em><em class="c">18</em><em class="d">5</em><q>小野寺 祐太</q><q>小栗 実</q></div>
<div class="tr" style="top:161px"><s>5</s><i class="f5">5</i><i class="h7">7</i><u>ブライテストドーン</u><em class="a">7.9</em><em class="b" style="background:#dbe9f8">12.6</em><em class="c">18</em><em class="d">6</em><q>草野 太郎</q><q style="background:#efe3a8">田島 俊明</q></div>
<div class="tr" style="top:177px"><s>6</s><i class="f3">3</i><i class="h4">4</i><u style="background:#fbe4f6">ダスク</u><em class="a">18.8</em><em class="b">23.3</em><em class="c">8.2</em><em class="d">8</em><q>▲井上 敏樹</q><q>石坂 公一</q></div>
<div class="tr" style="top:193px"><s>10</s><i class="f8">8</i><i class="h13">13</i><u>ヴァランセカズマ</u><em class="a">15.5</em><em class="b">16.1</em><em class="c" style="background:#fbe4f6">5.8</em><em class="d">7</em><q>大江原 圭</q><q>蛯名 利弘</q></div>
<div class="tr" style="top:209px"><s>7</s><i class="f6">6</i><i class="h10">10</i><u>カレンマックナイト</u><em class="a">29.6</em><em class="b" style="background:#dbe9f8">51.1</em><em class="c">5.4</em><em class="d">9</em><q>黒岩 悠</q><q>平田 修</q></div>
<div class="tr" style="top:225px"><s>9</s><i class="f4">4</i><i class="h5">5</i><u>イチリュウオー</u><em class="a">47.9</em><em class="b" style="background:#dbe9f8">147</em><em class="c">5</em><em class="d">13</em><q>▲水沼 元輝</q><q>小西 一男</q></div>
<div class="tr" style="top:241px"><s>13</s><i class="f4">4</i><i class="h6">6</i><u>ベルウッドウズメ</u><em class="a">35.9</em><em class="b" style="background:#dbe9f8">84.5</em><em class="c">4.7</em><em class="d">11</em><q>石神 深一</q><q>本間 忍</q></div>
<div class="tr" style="top:257px"><s>12</s><i class="f5">5</i><i class="h8">8</i><u>アドミラブルエース</u><em class="a">43.6</em><em class="b">61.3</em><em class="c">2.8</em><em class="d">10</em><q>伴 啓太</q><q>蛯名 利弘</q></div>
<div class="tr" style="top:273px"><s>11</s><i class="f7">7</i><i class="h11">11</i><u style="background:#fbe4f6">グラツィオーソ</u><em class="a">73.1</em><em class="b">100.3</em><em class="c">2.5</em><em class="d">12</em><q>江田 勇亮</q><q style="color:#2e8b57">田中 剛</q></div>
<div class="tr" style="top:289px"><s>14</s><i class="f6">6</i><i class="h9">9</i><u>テーオービースト</u><em class="a">102.9</em><em class="b" style="background:#dbe9f8">228.2</em><em class="c">1.5</em><em class="d">14</em><q>▲土田 真翔</q><q>清水 英克</q></div>
<div class="res" style="top:337px"><span>単勝</span>3  1,050円  5番人気
<span>枠連</span>2-3  1,780円  10番人気
<span>馬連</span>2-3  2,410円  12番人気
<span>馬単</span>3-2  5,100円  21番人気
<span>3連複</span>2-3-14  6,010円  19番人気
<span>3連単</span>3-2-14  35,040円  126番人気</div>
<div class="lbt" style="top:337px">連対馬潜伏枠</div>
<div class="lb" style="left:240px;top:355px"><i class="f3">3</i><i class="f7">7</i></div>

<div class="zh" style="left:430px;top:65px">Aゾーン</div><div class="zh" style="left:504px;top:65px">Bゾーン +</div><div class="zh" style="left:578px;top:65px">Cゾーン +</div>
<div class="zh" style="left:652px;top:65px">Aゾーン</div><div class="zh" style="left:725px;top:65px">Bゾーン +</div><div class="zh" style="left:799px;top:65px">Cゾーン +</div>
<div class="zh" style="left:873px;top:65px">Aゾーン</div><div class="zh" style="left:946px;top:65px">Bゾーン +</div><div class="zh" style="left:1020px;top:65px">Cゾーン +</div>
<div class="z" style="left:430px;top:81px"><p><i class="f3">3</i><i class="f8">8</i><b>11.9</b></p><p><i class="f1">1</i><i class="f5">5</i><b>18.3</b></p><p><i class="f6">6</i><i class="f8">8</i><b>51.8</b></p><p><i class="f1">1</i><i class="f4">4</i><b>94</b></p><p><i class="f3">3</i><i class="f6">6</i><b>109</b></p><p><i class="f3">3</i><i class="f4">4</i><b>110</b></p><p><i class="f7">7</i><i class="f7">7</i><b class="r">216</b></p></div>
<div class="z" style="left:504px;top:81px"><p><i class="f7">7</i><i class="f8">8</i><b>8.4</b></p><p><i class="f1">1</i><i class="f3">3</i><b>13.4</b></p><p><i class="f1">1</i><i class="f2">2</i><b class="r">13.7</b></p><p><i class="f2">2</i><i class="f8">8</i><b>14.4</b></p><p><i class="f2">2</i><i class="f3">3</i><b>17.8</b></p><p><i class="f2">2</i><i class="f6">6</i><b>97.7</b></p><p><i class="f5">5</i><i class="f5">5</i><b>200</b></p></div>
<div class="z" style="left:578px;top:81px"><p><i class="f1">1</i><i class="f7">7</i><b class="r">12.3</b></p><p><i class="f3">3</i><i class="f5">5</i><b>30.8</b></p><p><i class="f1">1</i><i class="f6">6</i><b>91.1</b></p><p><i class="f5">5</i><i class="f6">6</i><b>103</b></p><p><i class="f6">6</i><i class="f7">7</i><b class="r">115</b></p><p><i class="f4">4</i><i class="f7">7</i><b>134</b></p></div>
<div class="zh m" style="left:504px;top:209px">Bゾーン −</div><div class="zh m" style="left:578px;top:209px">Cゾーン −</div>
<div class="z" style="left:504px;top:225px"><p><i class="f1">1</i><i class="f8">8</i><b>5.6</b></p><p><i class="f5">5</i><i class="f8">8</i><b>14.1</b></p><p><i class="f4">4</i><i class="f8">8</i><b>61.9</b></p><p><i class="f3">3</i><i class="f3">3</i><b class="r">119</b></p></div>
<div class="z" style="left:578px;top:225px"><p><i class="f8">8</i><i class="f8">8</i><b>17.8</b></p><p><i class="f4">4</i><i class="f4">4</i><b>967</b></p></div>
<div class="zh m" style="left:504px;top:305px">Dゾーン +</div><div class="zh m" style="left:578px;top:305px">Dゾーン −</div>
<div class="z" style="left:504px;top:321px"><p><i class="f2">2</i><i class="f7">7</i><b class="r">21.5</b></p><p><i class="f3">3</i><i class="f7">7</i><b class="r">22.6</b></p><p><i class="f5">5</i><i class="f7">7</i><b class="r">29.8</b></p><p><i class="f2">2</i><i class="f5">5</i><b class="r">34.7</b></p><p><i class="f2">2</i><i class="f4">4</i><b>141</b></p></div>

<div class="z" style="left:652px;top:81px"><p><i class="h1">1</i><i class="h14">14</i><b>8.9</b></p><p><i class="h1">1</i><i class="h3">3</i><b>20</b></p><p><i class="h1">1</i><i class="h7">7</i><b>21.7</b></p><p><i class="h3">3</i><i class="h12">12</i><b class="r">22</b></p><p><i class="h2">2</i><i class="h3">3</i><b>24.1</b></p><p><i class="h7">7</i><i class="h12">12</i><b class="r">24.4</b></p><p><i class="h2">2</i><i class="h7">7</i><b class="r">26.4</b></p><p><i class="h7">7</i><i class="h14">14</i><b>28</b></p><p><i class="h4">4</i><i class="h12">12</i><b>39.3</b></p><p><i class="h3">3</i><i class="h7">7</i><b>46.3</b></p><p><i class="h2">2</i><i class="h4">4</i><b>53.8</b></p><p><i class="h3">3</i><i class="h13">13</i><b>76.9</b></p><p><i class="h10">10</i><i class="h12">12</i><b class="r">91.6</b></p><p><i class="h2">2</i><i class="h10">10</i><b>114</b></p><p><i class="h4">4</i><i class="h13">13</i><b>134</b></p><p><i class="h8">8</i><i class="h14">14</i><b>151</b></p><p><i class="h11">11</i><i class="h12">12</i><b class="r">160</b></p><p><i class="h3">3</i><i class="h10">10</i><b>177</b></p><p><i class="h2">2</i><i class="h11">11</i><b>237</b></p><p><i class="h11">11</i><i class="h14">14</i><b>254</b></p></div>
<div class="z" style="left:725px;top:81px"><p><i class="h1">1</i><i class="h2">2</i><b class="r">12.9</b></p><p><i class="h12">12</i><i class="h14">14</i><b>13.5</b></p><p><i class="h2">2</i><i class="h12">12</i><b class="r">15.4</b></p><p><i class="h3">3</i><i class="h14">14</i><b>33.1</b></p><p><i class="h12">12</i><i class="h13">13</i><b>34.2</b></p><p><i class="h1">1</i><i class="h4">4</i><b>50.4</b></p><p><i class="h4">4</i><i class="h14">14</i><b>70.3</b></p><p><i class="h1">1</i><i class="h10">10</i><b>117</b></p><p><i class="h10">10</i><i class="h14">14</i><b>139</b></p><p><i class="h1">1</i><i class="h6">6</i><b>196</b></p><p><i class="h6">6</i><i class="h14">14</i><b>230</b></p><p><i class="h1">1</i><i class="h11">11</i><b>247</b></p></div>
<div class="z" style="left:799px;top:81px"><p><i class="h1">1</i><i class="h12">12</i><b class="r">11.9</b></p><p><i class="h2">2</i><i class="h14">14</i><b>22.3</b></p><p><i class="h1">1</i><i class="h8">8</i><b>152</b></p></div>
<div class="zh m" style="left:725px;top:289px">Bゾーン −</div><div class="zh m" style="left:799px;top:289px">Cゾーン −</div>
<div class="z" style="left:725px;top:305px"><p><i class="h1">1</i><i class="h13">13</i><b>22.6</b></p><p><i class="h7">7</i><i class="h13">13</i><b>57.3</b></p><p><i class="h4">4</i><i class="h7">7</i><b>76.8</b></p><p><i class="h3">3</i><i class="h4">4</i><b class="r">83.3</b></p><p><i class="h10">10</i><i class="h13">13</i><b>219</b></p><p><i class="h8">8</i><i class="h13">13</i><b>247</b></p><p><i class="h3">3</i><i class="h11">11</i><b>254</b></p></div>
<div class="z" style="left:799px;top:305px"><p><i class="h13">13</i><i class="h14">14</i><b>21.9</b></p><p><i class="h7">7</i><i class="h10">10</i><b>129</b></p><p><i class="h4">4</i><i class="h10">10</i><b>255</b></p></div>
<div class="zh m" style="left:725px;top:433px">Dゾーン +</div><div class="zh m" style="left:799px;top:433px">Dゾーン −</div>
<div class="z" style="left:725px;top:449px"><p><i class="h8">8</i><i class="h12">12</i><b>195</b></p><p><i class="h6">6</i><i class="h12">12</i><b>292</b></p></div>

<div class="z" style="left:873px;top:81px"><p><i class="h1">1</i><i class="h14">14</i><b>18.1</b></p><p><i class="h1">1</i><i class="h7">7</i><b>32.5</b></p><p><i class="h1">1</i><i class="h3">3</i><b>35.2</b></p><p><i class="h1">1</i><i class="h13">13</i><b>38.5</b></p><p><i class="h3">3</i><i class="h1">1</i><b>45.1</b></p><p><i class="h2">2</i><i class="h7">7</i><b>47.1</b></p><p><i class="h2">2</i><i class="h3">3</i><b>47.5</b></p><p><i class="h3">3</i><i class="h2">2</i><b>51</b></p><p><i class="h14">14</i><i class="h7">7</i><b>51.3</b></p><p><i class="h7">7</i><i class="h1">1</i><b>57.8</b></p><p><i class="h13">13</i><i class="h1">1</i><b>58.4</b></p><p><i class="h12">12</i><i class="h4">4</i><b>59.4</b></p><p><i class="h7">7</i><i class="h2">2</i><b>60.5</b></p><p><i class="h7">7</i><i class="h12">12</i><b>63.8</b></p><p><i class="h13">13</i><i class="h12">12</i><b>83.5</b></p><p><i class="h7">7</i><i class="h3">3</i><b>93.9</b></p><p><i class="h14">14</i><i class="h4">4</i><b>102</b></p><p><i class="h4">4</i><i class="h12">12</i><b>109</b></p><p><i class="h13">13</i><i class="h7">7</i><b>133</b></p><p><i class="h4">4</i><i class="h2">2</i><b>138</b></p><p><i class="h7">7</i><i class="h13">13</i><b>147</b></p><p><i class="h1">1</i><i class="h10">10</i><b>154</b></p><p><i class="h7">7</i><i class="h4">4</i><b>183</b></p><p><i class="h1">1</i><i class="h8">8</i><b>193</b></p><p><i class="h14">14</i><i class="h10">10</i><b>202</b></p><p><i class="h2">2</i><i class="h10">10</i><b>210</b></p><p><i class="h10">10</i><i class="h12">12</i><b>217</b></p><p><i class="h14">14</i><i class="h8">8</i><b>237</b></p><p><i class="h13">13</i><i class="h4">4</i><b>239</b></p><p><i class="h4">4</i><i class="h13">13</i><b>293</b></p><p><i class="h14">14</i><i class="h6">6</i><b>348</b></p><p><i class="h2">2</i><i class="h11">11</i><b>375</b></p><p><i class="h7">7</i><i class="h8">8</i><b>435</b></p></div>
<div class="z" style="left:946px;top:81px"><p><i class="h1">1</i><i class="h2">2</i><b>24.1</b></p><p><i class="h14">14</i><i class="h12">12</i><b>27.9</b></p><p><i class="h2">2</i><i class="h1">1</i><b>29.9</b></p><p><i class="h2">2</i><i class="h12">12</i><b>34.8</b></p><p><i class="h12">12</i><i class="h3">3</i><b>36.1</b></p><p><i class="h12">12</i><i class="h7">7</i><b>41.3</b></p><p><i class="h14">14</i><i class="h3">3</i><b>53</b></p><p><i class="h3">3</i><i class="h12">12</i><b>54.8</b></p><p><i class="h12">12</i><i class="h13">13</i><b>58.6</b></p><p><i class="h3">3</i><i class="h14">14</i><b>72.6</b></p><p><i class="h7">7</i><i class="h14">14</i><b>76.9</b></p><p><i class="h1">1</i><i class="h4">4</i><b>85.6</b></p><p><i class="h2">2</i><i class="h4">4</i><b>91.4</b></p><p><i class="h13">13</i><i class="h2">2</i><b>127</b></p><p><i class="h4">4</i><i class="h1">1</i><b>129</b></p><p><i class="h3">3</i><i class="h13">13</i><b>138</b></p><p><i class="h13">13</i><i class="h3">3</i><b>156</b></p><p><i class="h4">4</i><i class="h14">14</i><b>167</b></p><p><i class="h1">1</i><i class="h6">6</i><b>328</b></p><p><i class="h10">10</i><i class="h14">14</i><b>370</b></p><p><i class="h8">8</i><i class="h1">1</i><b>396</b></p><p><i class="h14">14</i><i class="h11">11</i><b>404</b></p><p><i class="h8">8</i><i class="h2">2</i><b>491</b></p></div>
<div class="z" style="left:1020px;top:81px"><p><i class="h1">1</i><i class="h12">12</i><b>22.8</b></p><p><i class="h12">12</i><i class="h2">2</i><b>26.6</b></p><p><i class="h12">12</i><i class="h14">14</i><b>26.9</b></p><p><i class="h14">14</i><i class="h2">2</i><b>42.7</b></p><p><i class="h12">12</i><i class="h8">8</i><b>254</b></p><p><i class="h10">10</i><i class="h2">2</i><b>369</b></p><p><i class="h2">2</i><i class="h8">8</i><b>387</b></p><p><i class="h8">8</i><i class="h14">14</i><b>491</b></p></div>
<div class="zh m" style="left:946px;top:465px">Bゾーン −</div><div class="zh m" style="left:1020px;top:465px">Cゾーン −</div>
<div class="z" style="left:946px;top:481px"><p><i class="h14">14</i><i class="h1">1</i><b>19.3</b></p><p><i class="h3">3</i><i class="h7">7</i><b>81.6</b></p><p><i class="h12">12</i><i class="h10">10</i><b>113</b></p><p><i class="h3">3</i><i class="h4">4</i><b>146</b></p><p><i class="h4">4</i><i class="h3">3</i><b>173</b></p><p><i class="h10">10</i><i class="h1">1</i><b>188</b></p><p><i class="h4">4</i><i class="h7">7</i><b>197</b></p><p><i class="h12">12</i><i class="h11">11</i><b>208</b></p><p><i class="h3">3</i><i class="h10">10</i><b>215</b></p></div>
<div class="z" style="left:1020px;top:481px"><p><i class="h14">14</i><i class="h13">13</i><b>39.2</b></p><p><i class="h13">13</i><i class="h14">14</i><b>57.8</b></p><p><i class="h7">7</i><i class="h10">10</i><b>236</b></p><p><i class="h10">10</i><i class="h7">7</i><b>306</b></p><p><i class="h10">10</i><i class="h3">3</i><b>314</b></p><p><i class="h3">3</i><i class="h11">11</i><b>328</b></p><p><i class="h13">13</i><i class="h10">10</i><b>397</b></p><p><i class="h13">13</i><i class="h8">8</i><b>409</b></p><p><i class="h11">11</i><i class="h3">3</i><b>437</b></p></div>
</div>
</body></html>
